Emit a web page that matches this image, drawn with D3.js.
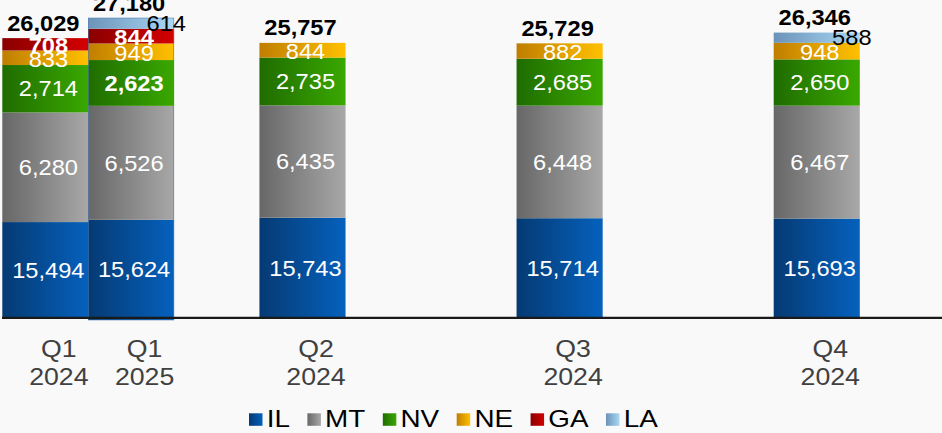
<!DOCTYPE html>
<html><head><meta charset="utf-8">
<script src="https://cdn.jsdelivr.net/npm/d3@7"></script>
<style>html,body{margin:0;padding:0;background:#f9f9f9;} svg{display:block;font-family:"Liberation Sans",Arial,sans-serif;}</style>
</head><body><svg id="c" width="942" height="433"></svg>
<script>
// ---------- data ----------
const categories = ["Q1 2024","Q1 2025","Q2 2024","Q3 2024","Q4 2024"];
const seriesNames = ["IL","MT","NV","NE","GA","LA"];
const IL = [15494,15624,15743,15714,15693];
const MT = [6280,6526,6435,6448,6467];
const NV = [2714,2623,2735,2685,2650];
const NE = [833,949,844,882,948];
const GA = [708,844,0,0,0];
const LA = [0,614,0,0,588];
const boldLabels = [["Q1 2024","GA"],["Q1 2025","GA"],["Q1 2025","NV"]];
const highlighted = "Q1 2025";
const yDomain = [10000, 28000];

// ---------- layout / style ----------
const W = 942, H = 433;
const slots = ["Q1 2024","Q1 2025","gap1","Q2 2024","gap2","gap3","Q3 2024","gap4","gap5","Q4 2024","gap6"];
const gradColors = {IL:["#053a73","#0561bd"], MT:["#676767","#a8a8a8"], NV:["#1f6c00","#3aa800"],
  NE:["#bf7e00","#ffc000"], GA:["#8a0000","#d40000"], LA:["#6b93b8","#aad8f5"]};
const SX = 1.16, SXB = 1.1;
const base = 318;

const svg = d3.select("#c");
svg.append("rect").attr("width",W).attr("height",H).attr("fill","#f9f9f9");
const defs = svg.append("defs");
seriesNames.forEach(s=>{
  const g = defs.append("linearGradient").attr("id","g"+s).attr("x1","0").attr("x2","1").attr("y1","0").attr("y2","0");
  g.append("stop").attr("offset","0").attr("stop-color",gradColors[s][0]);
  g.append("stop").attr("offset","1").attr("stop-color",gradColors[s][1]);
});

const x = d3.scaleBand().domain(slots).range([2.3, 2.3 + 11*85.71]).padding(0);
const y = d3.scaleLinear().domain(yDomain).range([base, 3.7]);

const series = {IL,MT,NV,NE,GA,LA};
const rows = categories.map((c,i)=>{const r={cat:c}; seriesNames.forEach(s=>r[s]=series[s][i]||0); return r;});
const stacked = d3.stack().keys(seriesNames)(rows);

function txt(g, tx, ty, str, o){
  return g.append("text").attr("transform",`translate(${tx},${ty}) scale(${o.sx||SX},1)`)
    .attr("text-anchor",o.anchor||"middle").attr("font-size",o.fs).attr("font-weight",o.bold?"bold":"normal")
    .attr("fill",o.fill).text(str);
}
const fmt = d3.format(",");
const bw = x.bandwidth() + 0.4;

const barsG = svg.append("g");
const labG = svg.append("g");
stacked.forEach(layer=>{
  const key = layer.key;
  layer.forEach(d=>{
    const v = d[1]-d[0];
    if (!v) return;
    const cat = d.data.cat;
    const x0 = x(cat);
    const yT = y(d[1]);
    const yB = key==="IL" ? base : y(d[0]);
    const yBot = key==="IL" && cat===highlighted ? base + 2 : yB;
    barsG.append("rect").attr("x",x0).attr("y",yT).attr("width",bw).attr("height",yBot-yT)
      .attr("fill",`url(#g${key})`);
    const fs = 21.5;
    const h = yB - yT;
    const mid = (yT + yB)/2;
    const bold = boldLabels.some(b=>b[0]===cat && b[1]===key);
    if (key==="LA") {
      txt(labG, x0 + bw - 8, mid + 0.358*fs, fmt(v), {fs, fill:"#000", sx:SXB});
    } else {
      txt(labG, x0 + bw/2 + 3, mid + 0.358*fs + (h<20?1.5:0), fmt(v), {fs, fill:"#fff", bold, sx:SXB});
    }
  });
});
// highlight outline
const hiTotal = d3.sum(seriesNames, s=>rows[categories.indexOf(highlighted)][s]);
barsG.append("rect").attr("x",x(highlighted)+0.5).attr("y",y(hiTotal)).attr("width",bw-1)
  .attr("height",base+2-y(hiTotal)).attr("fill","none").attr("stroke","#4f7fb8").attr("stroke-width",0.8).attr("stroke-opacity",0.7);

// totals
rows.forEach(r=>{
  const t = d3.sum(seriesNames, s=>r[s]);
  txt(labG, x(r.cat)+bw/2-2, y(t)-7.5, fmt(t), {fs:21.5, fill:"#000", bold:true, sx:SXB});
});

// axis line
svg.append("line").attr("x1",2).attr("x2",W).attr("y1",317.8).attr("y2",317.8).attr("stroke","#1a1a1a").attr("stroke-width",2.2);

// category labels
categories.forEach(c=>{
  const parts = c.split(" ");
  const cx = x(c)+bw/2+13.5;
  txt(svg, cx, 356.5, parts[0], {fs:23, fill:"#404040"});
  txt(svg, cx, 385, parts[1], {fs:23, fill:"#404040"});
});

// legend
const lg = svg.append("g");
let lx = 249;
seriesNames.forEach(s=>{
  lg.append("rect").attr("x",lx).attr("y",413.3).attr("width",13.5).attr("height",12.5).attr("fill",`url(#g${s})`);
  const t = txt(lg, lx+17.7, 426.5, s, {fs:24, fill:"#000", anchor:"start"});
  const len = t.node().getComputedTextLength()*SX;
  lx = lx + 17.7 + len + 17.5;
});
</script></body></html>
